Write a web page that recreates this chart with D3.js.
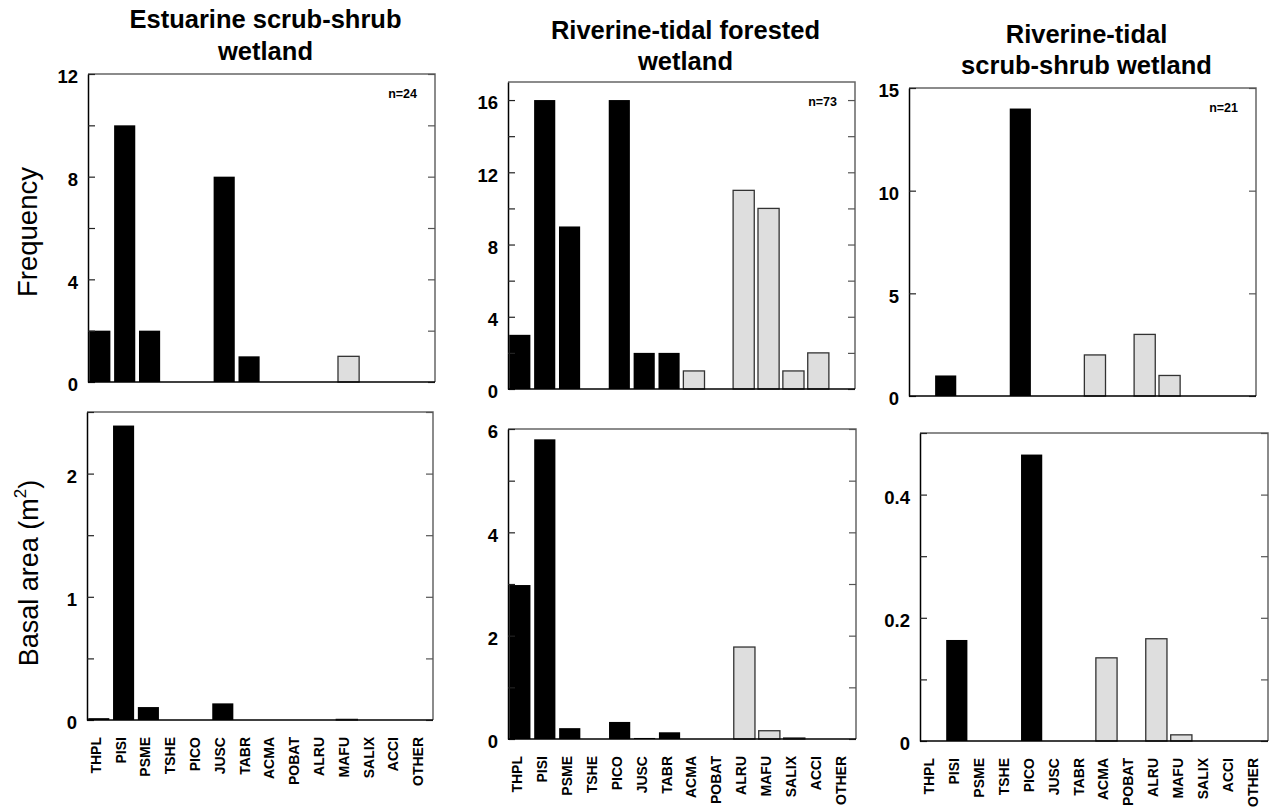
<!DOCTYPE html>
<html>
<head>
<meta charset="utf-8">
<script src="https://cdn.jsdelivr.net/npm/d3@7"></script>
<style>
  body { margin: 0; background: #fff; }
  svg { display: block; font-family: "Liberation Sans", Arial, sans-serif; }
</style>
</head>
<body>
<div id="chart"></div>
<script>
// species codes along the x axis; the first seven are conifers (black bars)
const species = ['THPL', 'PISI', 'PSME', 'TSHE', 'PICO', 'JUSC', 'TABR', 'ACMA', 'POBAT', 'ALRU', 'MAFU', 'SALIX', 'ACCI', 'OTHER'];
const conifers = ['THPL', 'PISI', 'PSME', 'TSHE', 'PICO', 'JUSC', 'TABR'];

const titles = [
    ['Estuarine scrub-shrub', 'wetland'],
    ['Riverine-tidal forested', 'wetland'],
    ['Riverine-tidal', 'scrub-shrub wetland']
];
const sampleSizes = ['n=24', 'n=73', 'n=21'];

const freqEstuarine = [2, 10, 2, 0, 0, 8, 1, 0, 0, 0, 1, 0, 0, 0];
const freqForested  = [3, 16, 9, 0, 16, 2, 2, 1, 0, 11, 10, 1, 2, 0];
const freqScrub     = [0, 1, 0, 0, 14, 0, 0, 2, 0, 3, 1, 0, 0, 0];

const basalEstuarine = [0.015, 2.39, 0.105, 0, 0, 0.135, 0, 0, 0, 0, 0.005, 0, 0, 0];
const basalForested  = [2.98, 5.8, 0.21, 0, 0.33, 0.02, 0.13, 0, 0, 1.78, 0.16, 0.02, 0, 0];
const basalScrub     = [0, 0.164, 0, 0, 0.465, 0, 0, 0.135, 0, 0.166, 0.01, 0, 0, 0];

// y axes: [max, tick step, label step]
const freqAxes  = [[12, 2, 4], [17, 2, 4], [15, 5, 5]];
const basalAxes = [[2.5, 0.5, 1], [6, 1, 2], [0.5, 0.1, 0.2]];

const width = 1271, height = 811;
const svg = d3.select('#chart').append('svg')
    .attr('width', width)
    .attr('height', height);

// frame boxes of the six panels [left, top, right, bottom]
const frames = [
    [88, 74, 435, 382], [508, 82, 855, 389], [909, 88, 1256, 396],
    [87, 412, 433, 720], [508, 429, 856, 739], [920, 433, 1268, 741]
];
const titleY = [[28, 60], [39, 70], [43, 74]];

const panels = [
    {values: freqEstuarine, axis: freqAxes[0]},
    {values: freqForested, axis: freqAxes[1]},
    {values: freqScrub, axis: freqAxes[2]},
    {values: basalEstuarine, axis: basalAxes[0]},
    {values: basalForested, axis: basalAxes[1]},
    {values: basalScrub, axis: basalAxes[2]}
];

panels.forEach(function(p, i) {
    const [x0, y0, x1, y1] = frames[i],
        [max, step, labelStep] = p.axis,
        top = i < 3,
        col = i % 3;

    const x = d3.scaleBand().domain(species).range([x0, x1]).paddingInner(0.15).paddingOuter(0.05),
        y = d3.scaleLinear().domain([0, max]).range([y1, y0]);

    const ticks = d3.range(0, max + step / 2, step).map(v => +v.toFixed(3)),
        isLabel = v => Math.abs(v / labelStep - Math.round(v / labelStep)) < 1e-6;

    const g = svg.append('g');

    // top and right frame (gray)
    g.append('path')
        .attr('d', 'M' + x0 + ',' + y0 + 'H' + x1 + 'V' + y1)
        .attr('fill', 'none')
        .attr('stroke', '#666')
        .attr('stroke-width', 1.5);

    // right inward ticks
    g.append('g')
        .attr('transform', 'translate(' + x1 + ',0)')
        .call(d3.axisRight(y).tickValues(ticks).tickSize(-7).tickSizeOuter(0).tickFormat(''))
        .call(a => a.select('.domain').remove())
        .call(a => a.selectAll('line').attr('stroke', '#555').attr('stroke-width', 1.2));

    // bars
    g.selectAll('rect.bar')
        .data(species.map((s, k) => ({s: s, v: p.values[k]})).filter(d => d.v > 0))
        .join('rect')
        .attr('class', 'bar')
        .attr('x', d => x(d.s))
        .attr('width', x.bandwidth())
        .attr('y', d => y(d.v))
        .attr('height', d => y(0) - y(d.v))
        .attr('fill', d => conifers.includes(d.s) ? '#000' : '#dedede')
        .attr('stroke', d => conifers.includes(d.s) ? 'none' : '#333')
        .attr('stroke-width', 1.3);

    // left axis, inward ticks
    const left = g.append('g')
        .attr('transform', 'translate(' + x0 + ',0)')
        .call(d3.axisLeft(y).tickValues(ticks).tickSize(-7).tickSizeOuter(0).tickPadding(10)
            .tickFormat(v => isLabel(v) ? String(v) : ''));
    left.select('.domain').attr('stroke', '#000').attr('stroke-width', 1.5);
    left.selectAll('line').attr('stroke', '#222').attr('stroke-width', 1.2);
    left.selectAll('text')
        .attr('font-family', '"Liberation Sans", Arial, sans-serif')
        .attr('font-size', 18.5)
        .attr('font-weight', 'bold')
        .attr('fill', '#000')
        .attr('dy', '0.48em');

    // bottom axis line
    g.append('line')
        .attr('x1', x0).attr('x2', x1)
        .attr('y1', y1).attr('y2', y1)
        .attr('stroke', '#000')
        .attr('stroke-width', 1.5);

    if (top) {
        g.append('text')
            .attr('text-anchor', 'middle')
            .attr('font-size', 25.5)
            .attr('font-weight', 'bold')
            .selectAll('tspan')
            .data(titles[col])
            .join('tspan')
            .attr('x', (x0 + x1) / 2 + 4)
            .attr('y', (d, k) => titleY[col][k])
            .text(d => d);

        g.append('text')
            .attr('x', x1 - 18)
            .attr('y', y0 + 24)
            .attr('text-anchor', 'end')
            .attr('font-size', 12.5)
            .attr('font-weight', 'bold')
            .text(sampleSizes[col]);
    } else {
        g.selectAll('text.sp')
            .data(species)
            .join('text')
            .attr('class', 'sp')
            .attr('transform', d => 'translate(' + (x(d) + x.bandwidth() / 2 + 2) + ',' + (y1 + 17) + ') rotate(-90)')
            .attr('text-anchor', 'end')
            .attr('font-size', 14)
            .attr('font-weight', 'bold')
            .text(d => d);
    }
});

// y axis titles
svg.append('text')
    .attr('transform', 'translate(37,232) rotate(-90)')
    .attr('text-anchor', 'middle')
    .attr('font-size', 27.5)
    .text('Frequency');

const basal = svg.append('text')
    .attr('transform', 'translate(38,573) rotate(-90)')
    .attr('text-anchor', 'middle')
    .attr('font-size', 27);
basal.append('tspan').text('Basal area (m');
basal.append('tspan').attr('font-size', 17).attr('dy', -12).text('2');
basal.append('tspan').attr('dy', 12).text(')');
</script>
</body>
</html>
